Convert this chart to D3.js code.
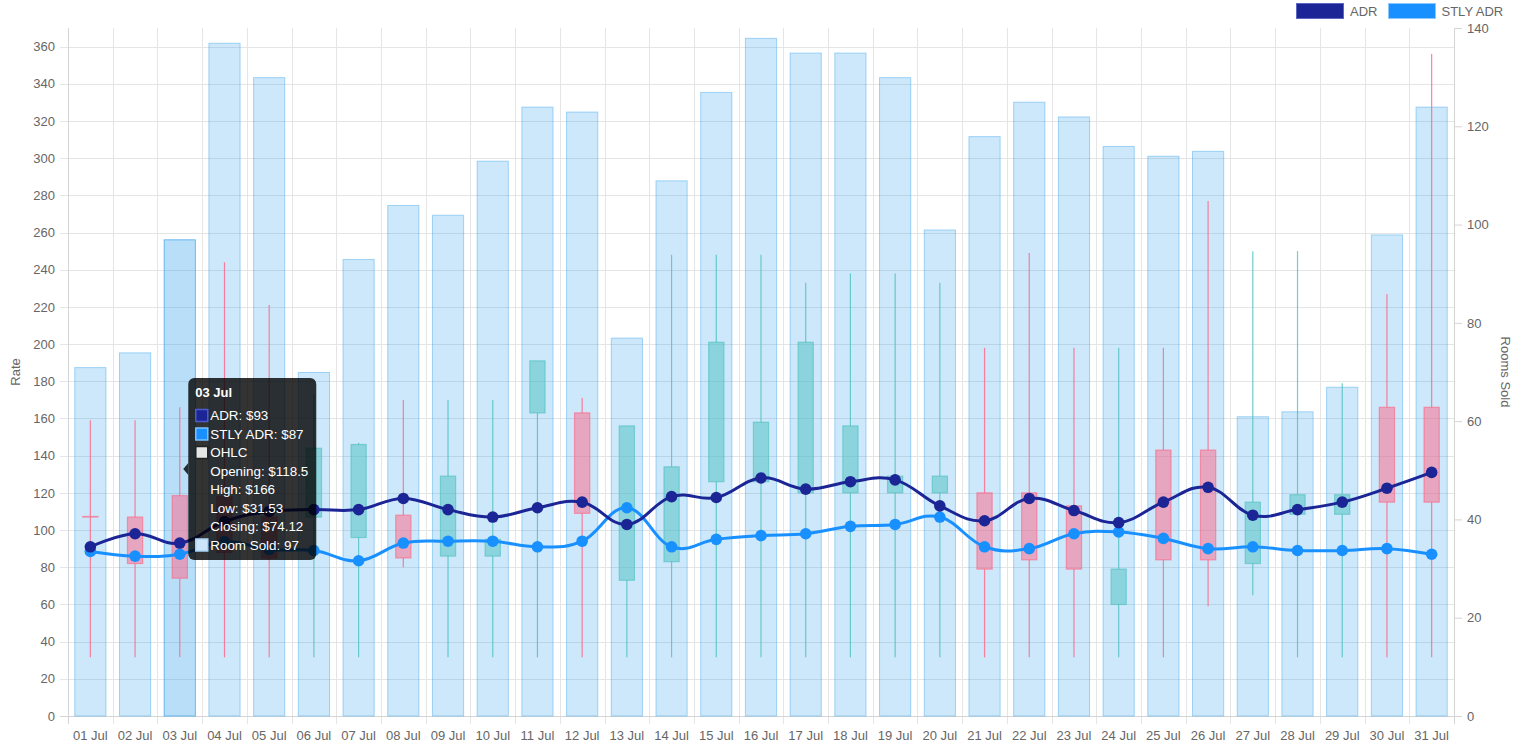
<!DOCTYPE html>
<html><head><meta charset="utf-8">
<script src="https://cdn.jsdelivr.net/npm/d3@7/dist/d3.min.js"></script>
<style>
html,body{margin:0;padding:0;background:#fff;}
svg{display:block;font-family:"Liberation Sans",Arial,Helvetica,sans-serif;}
</style>
</head><body>
<svg id="chart" width="1521" height="742"></svg>
<script>
// ---------- data ----------
const days = ["01 Jul","02 Jul","03 Jul","04 Jul","05 Jul","06 Jul","07 Jul","08 Jul","09 Jul","10 Jul",
  "11 Jul","12 Jul","13 Jul","14 Jul","15 Jul","16 Jul","17 Jul","18 Jul","19 Jul","20 Jul",
  "21 Jul","22 Jul","23 Jul","24 Jul","25 Jul","26 Jul","27 Jul","28 Jul","29 Jul","30 Jul","31 Jul"];
const roomsSold = [71,74,97,137,130,70,93,104,102,113,124,123,77,109,127,138,135,135,130,99,118,125,122,116,114,115,61,62,67,98,124];
const adr  = [91,98,93,104.6,110,111,111,117,111,107,112,115,103,118,117.5,128,122,126,127,113,105,117,110.5,104,115,123,108,111,115,122.5,131];
const stlyAdr = [88.5,86,87,93.8,89.5,89,83.5,93,94,94,91,94,112,91,95,97,98,102,103,107,91,90,98,99,95.5,90,91,89,89,90,87];
const ohlcOpen  = [107.3,107,118.5,118,107,107,96,108,86,86,163,163,73,83,126,126,120,120,120,120,120,120,113,60,143,143,82,108.5,108.5,166,166];
const ohlcHigh  = [159,159,166,244,221,173,147,170,170,170,191,171,156,248,248,248,233,238,238,233,198,249,198,198,198,277,250,250,179,227,356];
const ohlcLow   = [31.53,31.53,31.53,31.53,31.53,31.53,31.53,80,31.53,31.53,31.53,31.53,31.53,31.53,31.53,31.53,31.53,31.53,31.53,31.53,31.53,31.53,31.53,31.53,31.53,59,65,31.53,31.53,31.53,31.53];
const ohlcClose = [107,82,74.12,88,85,144,146,85,129,95,191,109,156,134,201,158,201,156,129,129,79,84,79,79,84,84,115,119,119,115,115];
const rateTicks = [0,20,40,60,80,100,120,140,160,180,200,220,240,260,280,300,320,340,360];
const roomTicks = [0,20,40,60,80,100,120,140];
const seriesNames = ["ADR","STLY ADR"];
const hoverIndex = 2;

// ---------- setup ----------
const svg = d3.select("#chart");
const L = 68, R = 1454, T = 28, B = 716;
const x = d3.scaleBand().domain(days).range([L, R]).paddingInner(0).paddingOuter(0);
const bw = x.bandwidth();
const cx = d => x(d) + bw / 2;
const yL = d3.scaleLinear().domain([0, 370]).range([B, T]);
const yR = d3.scaleLinear().domain([0, 140]).range([B, T]);

const gridColor = "#e5e5e5";
const tickText = "#666";

// horizontal grid (left axis)
svg.append("g").selectAll("line").data(rateTicks).join("line")
  .attr("x1", L - 8).attr("x2", R)
  .attr("y1", d => Math.round(yL(d)) + 0.5).attr("y2", d => Math.round(yL(d)) + 0.5)
  .attr("stroke", gridColor).attr("stroke-width", 1);

// vertical grid at category boundaries (with ticks below)
const bounds = days.map(d => x(d)).concat([R]);
svg.append("g").selectAll("line").data(bounds.slice(1, -1)).join("line")
  .attr("x1", d => Math.round(d) + 0.5).attr("x2", d => Math.round(d) + 0.5)
  .attr("y1", T).attr("y2", B + 8)
  .attr("stroke", gridColor).attr("stroke-width", 1);

// axis lines
svg.append("line").attr("x1", L + 0.5).attr("x2", L + 0.5).attr("y1", T).attr("y2", B + 8).attr("stroke", "#d4d4d4");
svg.append("line").attr("x1", R + 0.5).attr("x2", R + 0.5).attr("y1", T).attr("y2", B + 8).attr("stroke", "#d4d4d4");
svg.append("line").attr("x1", L - 8).attr("x2", R + 8).attr("y1", B + 0.5).attr("y2", B + 0.5).attr("stroke", "#d4d4d4");

// axes (labels)
const axL = svg.append("g").attr("transform", `translate(${L},0)`)
  .call(d3.axisLeft(yL).tickValues(rateTicks).tickSize(0).tickPadding(13));
const axR = svg.append("g").attr("transform", `translate(${R},0)`)
  .call(d3.axisRight(yR).tickValues(roomTicks).tickSize(8).tickPadding(5));
const axB = svg.append("g").attr("transform", `translate(0,${B})`)
  .call(d3.axisBottom(x).tickSize(0).tickPadding(15));
[axL, axR, axB].forEach(g => {
  g.select(".domain").remove();
  g.selectAll("text").attr("fill", tickText).style("font-size", "13px")
    .style("font-family", '"Liberation Sans",Arial,Helvetica,sans-serif');
  g.selectAll("line").attr("stroke", "#d4d4d4");
});

// axis titles
svg.append("text").attr("transform", `translate(20,${(T + B) / 2}) rotate(-90)`)
  .attr("text-anchor", "middle").attr("fill", tickText).style("font-size", "13px").text("Rate");
svg.append("text").attr("transform", `translate(1501,${(T + B) / 2}) rotate(90)`)
  .attr("text-anchor", "middle").attr("fill", tickText).style("font-size", "13px").text("Rooms Sold");

// ---------- bars ----------
svg.append("g").selectAll("rect").data(days).join("rect")
  .attr("x", d => x(d) + bw * 0.14 + 0.5)
  .attr("width", bw * 0.72 - 1)
  .attr("y", (d, i) => yR(roomsSold[i]) + 0.5)
  .attr("height", (d, i) => B - yR(roomsSold[i]) - 0.5)
  .attr("fill", (d, i) => i === hoverIndex ? "rgba(54,162,235,0.35)" : "rgba(54,162,235,0.25)")
  .attr("stroke", (d, i) => i === hoverIndex ? "rgba(54,162,235,0.7)" : "rgba(54,162,235,0.42)")
  .attr("stroke-width", 1);

// ---------- candles ----------
const up = "rgb(75,192,192)", down = "rgb(255,99,132)";
const upFill = "rgba(75,192,192,0.5)", downFill = "rgba(255,99,132,0.5)";
const cw = bw * 0.34;
const cg = svg.append("g");
days.forEach((d, i) => {
  const o = ohlcOpen[i], h = ohlcHigh[i], l = ohlcLow[i], c = ohlcClose[i];
  const isUp = c >= o;
  const col = isUp ? up : down;
  const top = Math.max(o, c), bot = Math.min(o, c);
  const xc = cx(d);
  cg.append("line").attr("x1", xc).attr("x2", xc).attr("y1", yL(h)).attr("y2", yL(top))
    .attr("stroke", col).attr("stroke-opacity", 0.8).attr("stroke-width", 1.2);
  cg.append("line").attr("x1", xc).attr("x2", xc).attr("y1", yL(bot)).attr("y2", yL(l))
    .attr("stroke", col).attr("stroke-opacity", 0.8).attr("stroke-width", 1.2);
  cg.append("rect").attr("x", xc - cw / 2).attr("width", cw)
    .attr("y", yL(top)).attr("height", Math.max(0.1, yL(bot) - yL(top)))
    .attr("fill", isUp ? upFill : downFill)
    .attr("stroke", col).attr("stroke-opacity", 0.6).attr("stroke-width", 1.2);
});

// ---------- lines ----------
const adrColor = "#1b2595", stlyColor = "#1890ff";
const lineGen = d3.line().x((v, i) => cx(days[i])).y(v => yL(v)).curve(d3.curveCardinal.tension(-0.2));
function drawSeries(vals, color) {
  const g = svg.append("g");
  g.append("path").attr("d", lineGen(vals)).attr("fill", "none")
    .attr("stroke", color).attr("stroke-width", 3);
  g.selectAll("circle").data(vals).join("circle")
    .attr("cx", (v, i) => cx(days[i])).attr("cy", v => yL(v)).attr("r", 5.8)
    .attr("fill", color);
}
drawSeries(stlyAdr, stlyColor);
drawSeries(adr, adrColor);

// ---------- legend ----------
const lg = svg.append("g").style("font-size", "13px");
lg.append("rect").attr("x", 1296.5).attr("y", 3.5).attr("width", 47).attr("height", 15)
  .attr("fill", adrColor).attr("stroke", "#5a66c0").attr("stroke-width", 1);
lg.append("text").attr("x", 1350).attr("y", 15.5).attr("fill", tickText).text(seriesNames[0]);
lg.append("rect").attr("x", 1388.5).attr("y", 3.5).attr("width", 47).attr("height", 15)
  .attr("fill", stlyColor).attr("stroke", "#8cc8ff").attr("stroke-width", 1);
lg.append("text").attr("x", 1441.5).attr("y", 15.5).attr("fill", tickText).text(seriesNames[1]);

// ---------- tooltip ----------
const i0 = hoverIndex;
const tipX = cx(days[i0]) + 3.5;
const tx = tipX + 5, ty = 378, tw = 128, th = 182, caretY = 469;
const tg = svg.append("g");
tg.append("rect").attr("x", tx).attr("y", ty).attr("width", tw).attr("height", th)
  .attr("rx", 6).attr("fill", "rgba(0,0,0,0.8)");
tg.append("path").attr("d", `M${tipX},${caretY} L${tx},${caretY - 6} L${tx},${caretY + 6} Z`)
  .attr("fill", "rgba(0,0,0,0.8)");
tg.append("text").attr("x", tx + 7).attr("y", 397).attr("fill", "#fff")
  .style("font-size", "13px").style("font-weight", "bold").text(days[i0]);
const lines = [
  {t: `${seriesNames[0]}: $${adr[i0]}`, box: adrColor, bs: "#4c5bd0"},
  {t: `${seriesNames[1]}: $${stlyAdr[i0]}`, box: stlyColor, bs: "#7cc0ff"},
  {t: "OHLC", box: "#e6e6e6", bs: "#222"},
  {t: `Opening: $${ohlcOpen[i0]}`},
  {t: `High: $${ohlcHigh[i0]}`},
  {t: `Low: $${ohlcLow[i0]}`},
  {t: `Closing: $${ohlcClose[i0]}`},
  {t: `Room Sold: ${roomsSold[i0]}`, box: "#cce5fb", bs: "#a8d4f8"}
];
lines.forEach((ln, k) => {
  const yc = 415.5 + k * 18.5;
  if (ln.box) {
    tg.append("rect").attr("x", tx + 7.5).attr("y", yc - 6).attr("width", 12).attr("height", 12)
      .attr("fill", ln.box).attr("stroke", ln.bs).attr("stroke-width", 1.5);
  }
  tg.append("text").attr("x", tx + 22).attr("y", yc + 4.5).attr("fill", "#fff")
    .style("font-size", "13.4px").text(ln.t);
});
</script>
</body></html>
